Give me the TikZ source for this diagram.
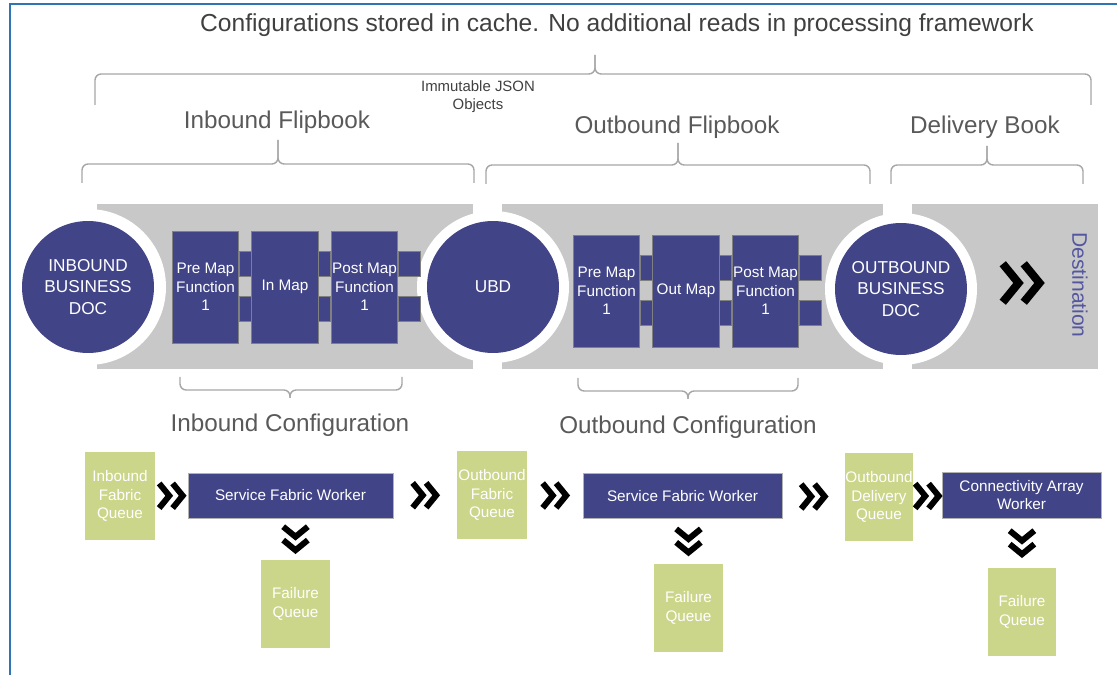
\documentclass[tikz,border=0pt]{standalone}
\usepackage{fontspec}
\setmainfont{Liberation Sans}
\usetikzlibrary{calc}

\definecolor{navy}{RGB}{65,68,135}
\definecolor{bandgray}{RGB}{200,200,200}
\definecolor{qgreen}{RGB}{204,214,138}
\definecolor{bracegray}{RGB}{166,166,166}
\definecolor{headgray}{RGB}{89,89,89}
\definecolor{titlegray}{RGB}{64,64,64}
\definecolor{frameblue}{RGB}{46,117,182}
\definecolor{destblue}{RGB}{84,86,160}

\tikzset{
	doc/.style={circle, fill=navy, text=white, minimum size=2.64cm, inner sep=0pt, align=center, font=\fontsize{9.8}{12}\selectfont},
	mapbox/.style={rectangle, fill=navy, draw=gray, line width=0.5pt, text=white, minimum width=1.33cm, minimum height=2.24cm, inner sep=0pt, align=center, font=\fontsize{8.7}{10.6}\selectfont},
	stub/.style={fill=navy, draw=gray, line width=0.5pt},
	queue/.style={rectangle, fill=qgreen, text=white, minimum width=1.4cm, minimum height=1.76cm, inner sep=0pt, align=center, font=\fontsize{8.7}{10.5}\selectfont},
	worker/.style={rectangle, fill=navy, draw=gray!60, line width=0.4pt, text=white, minimum height=0.9cm, inner sep=0pt, align=center, font=\fontsize{8.7}{10.5}\selectfont},
	heading/.style={text=headgray, font=\fontsize{13.8}{16}\selectfont},
	curly/.style={draw=bracegray, line width=0.8pt, rounded corners=3.5pt},
	smallchev/.style={line width=3.4pt, scale=1.12},
	bigchev/.style={line width=4.6pt, scale=1.75},
	chevrons/.pic={\draw (-11,-11) -- (-2,0) -- (-11,11) (1,-11) -- (10,0) -- (1,11);}
}

% brace: x left, x right, x tip, y line, y ends, y tip
\newcommand{\flipbrace}[6]{%
	\draw[curly] (#1,#5) -- (#1,#4) -- (#3,#4) -- (#3,#6);
	\draw[curly] (#3,#6) -- (#3,#4) -- (#2,#4) -- (#2,#5);
}

\begin{document}
\begin{tikzpicture}[x=0.02cm, y=-0.02cm]
	\useasboundingbox (0,0) rectangle (1117,675);

	% Headings and braces
	\node[text=titlegray, font=\fontsize{14}{16}\selectfont] (title) at (617,25) {Configurations stored in cache. No additional reads in processing framework};
	\flipbrace{95}{1091}{595}{74}{105}{55}
	\node[text=titlegray, align=center, font=\fontsize{8.5}{10.2}\selectfont] (json) at (478,97) {Immutable JSON\\Objects};

	\node[heading] (inflip) at (277,122) {Inbound Flipbook};
	\node[heading] (outflip) at (677,127) {Outbound Flipbook};
	\node[heading] (delbook) at (985,127) {Delivery Book};
	\flipbrace{82}{474}{278}{164}{183}{140}
	\flipbrace{486}{870}{678}{165}{184}{143}
	\flipbrace{891}{1083}{987}{165}{184}{146}

	% Band
	\fill[bandgray] (97,204) rectangle (1098,369);
	\fill[white] (88,287) circle (78);
	\fill[white] (493,287) circle (76);
	\fill[white] (473,204) rectangle (502,369);
	\fill[white] (901,289) circle (76);
	\fill[white] (883,204) rectangle (912,369);

	% Define nodes
	\node[doc] (ibd) at (88,287) {INBOUND\\BUSINESS\\DOC};
	\node[doc] (ubd) at (493,287) {UBD};
	\node[doc] (obd) at (901,289) {OUTBOUND\\BUSINESS\\DOC};

	\node[mapbox] (pre1) at (205.5,287) {Pre Map\\Function\\1};
	\node[mapbox] (in1) at (285,287) {In Map};
	\node[mapbox] (post1) at (364.5,287) {Post Map\\Function\\1};
	\node[mapbox] (pre2) at (606.5,291) {Pre Map\\Function\\1};
	\node[mapbox] (out2) at (686,291) {Out Map};
	\node[mapbox] (post2) at (765.5,291) {Post Map\\Function\\1};

	\foreach \a/\b in {pre1/in1, in1/post1, pre2/out2, out2/post2} {
		\draw[stub] ($(\a.east)+(0,-36)$) rectangle ($(\b.west)+(0,-11)$);
		\draw[stub] ($(\a.east)+(0,9)$) rectangle ($(\b.west)+(0,34)$);
	}
	\foreach \a in {post1, post2} {
		\draw[stub] ($(\a.east)+(0,-36)$) rectangle ($(\a.east)+(22,-11)$);
		\draw[stub] ($(\a.east)+(0,9)$) rectangle ($(\a.east)+(22,34)$);
	}

	\pic[bigchev] at (1022,283) {chevrons};
	\node[rotate=-90, text=destblue, font=\fontsize{12}{14}\selectfont] (dest) at (1080,285) {Destination};

	\node[heading] (inconf) at (290,425) {Inbound Configuration};
	\node[heading] (outconf) at (688,427) {Outbound Configuration};
	\flipbrace{180}{402}{290}{390}{377}{398}
	\flipbrace{578}{798}{688}{391}{378}{399}

	% Queues and workers
	\node[queue] (ifq) at (120,496) {Inbound\\Fabric\\Queue};
	\node[worker, minimum width=4.1cm] (sfw1) at (290.5,495.5) {Service Fabric Worker};
	\node[queue] (ofq) at (492,495) {Outbound\\Fabric\\Queue};
	\node[worker, minimum width=3.98cm] (sfw2) at (682.5,496) {Service Fabric Worker};
	\node[queue, minimum width=1.36cm] (odq) at (879,497) {Outbound\\Delivery\\Queue};
	\node[worker, minimum width=3.18cm, minimum height=0.92cm] (caw) at (1021.5,495) {Connectivity Array\\Worker};
	\node[queue] (fq1) at (295.5,604) {Failure\\Queue};
	\node[queue] (fq2) at (688.5,608) {Failure\\Queue};
	\node[queue, minimum width=1.36cm] (fq3) at (1022,612) {Failure\\Queue};

	% Connect the nodes
	\foreach \a/\b in {ifq/sfw1, sfw1/ofq, ofq/sfw2, sfw2/odq, odq/caw} {
		\pic[smallchev] at ($(\a.east)!0.5!(\b.west)$) {chevrons};
	}
	\foreach \a/\b in {sfw1/fq1, sfw2/fq2, caw/fq3} {
		\pic[smallchev, rotate=-90] at ($(\a.south -| \b.north)!0.5!(\b.north)$) {chevrons};
	}

	% Frame
	\draw[frameblue, line width=1.1pt] (10,675) -- (10,4) -- (1117,4);
\end{tikzpicture}
\end{document}
